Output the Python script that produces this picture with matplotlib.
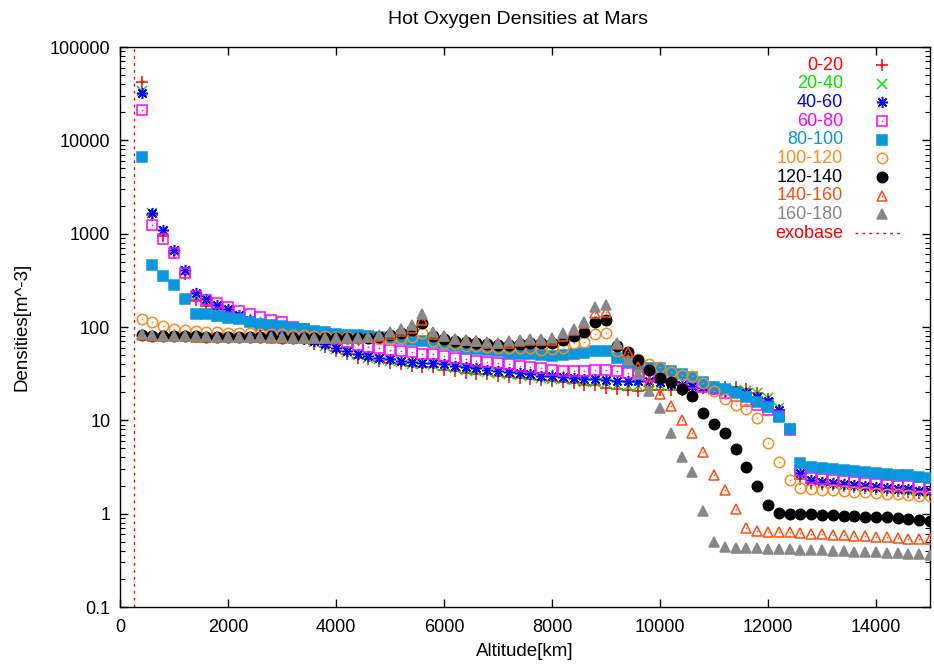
import matplotlib
matplotlib.use('Agg')
import matplotlib.pyplot as plt

plt.rcParams['font.family'] = ['Liberation Sans', 'DejaVu Sans']

# ---------------- data ----------------
altitude = list(range(400, 15001, 200))   # km

labels = ['0-20', '20-40', '40-60', '60-80', '80-100',
          '100-120', '120-140', '140-160', '160-180']

d0_20 = [42000, 1600, 940, 622, 370, 197, 167, 154, 141, 125,
         112, 100, 93, 87, 80, 74, 66, 61, 56, 51,
         47, 45, 43, 41, 40, 38, 37, 37, 35, 34,
         32, 31, 31, 30, 29, 28.5, 27.5, 27, 26.5, 26,
         25, 24, 23.7, 22.4, 21.5, 21, 20.6, 21, 21, 21,
         21, 21.5, 22, 23, 23, 22.5, 21.5, 19.5, 17, 13,
         8, 2.37, 2.15, 2.08, 2.03, 1.98, 1.93, 1.87, 1.83, 1.79,
         1.75, 1.71, 1.66, 1.61]

d20_40 = [33500, 1650, 1060, 650, 395, 215, 185, 162, 147, 130,
          115, 103, 95, 88, 82, 76, 69, 63, 58, 54,
          50, 47, 45, 43, 42, 40.5, 40, 39, 38, 36.5,
          35, 34, 33, 32, 31, 30.5, 29.5, 28.5, 28, 27.5,
          27, 26, 25.5, 25, 24, 23.5, 23.5, 24, 24, 23.5,
          23.5, 23, 22.5, 22, 21.5, 21, 20.5, 19.5, 17.5, 13.5,
          8.2, 2.6, 2.22, 2.13, 2.08, 2.03, 1.98, 1.92, 1.88, 1.84,
          1.8, 1.76, 1.71, 1.67]

d40_60 = [32300, 1670, 1090, 664, 412, 232, 200, 171, 155, 136,
          120, 106, 97, 89, 83, 78, 71, 65, 60, 56,
          52, 49, 47, 45, 43.5, 42.5, 41.5, 41, 40, 38,
          37, 36, 34.6, 34, 33, 32.5, 31.5, 30, 29.5, 29,
          28.7, 28, 27.5, 27, 26.5, 26.5, 26.5, 26.5, 26, 24.5,
          24, 23.5, 22.5, 21.5, 20.5, 20.5, 19.5, 18, 16, 13,
          8, 2.75, 2.29, 2.18, 2.15, 2.1, 2.05, 1.98, 1.94, 1.9,
          1.86, 1.82, 1.77, 1.73]

d60_80 = [20900, 1250, 885, 622, 380, 215, 195, 181, 163, 147,
          137, 129, 120, 114, 100, 95, 88, 83, 75, 69,
          64, 61, 59, 57, 55, 54, 52, 51, 49, 47,
          45, 43, 42, 41, 40, 38, 37, 36, 35, 34,
          34, 34, 34.6, 34.5, 34, 32, 31, 30, 29.5, 29,
          27.5, 25, 23, 21.5, 19.8, 18.2, 16.1, 14.5, 13, 11,
          7.9, 2.9, 2.43, 2.37, 2.29, 2.24, 2.18, 2.11, 2.07, 2.04,
          2.0, 1.96, 1.92, 1.88]

d80_100 = [6650, 463, 353, 284, 201, 137, 137, 131, 126, 121,
           114, 109, 105, 102, 98, 94.5, 90.6, 89, 85, 83,
           82, 80, 78, 77, 74, 72, 71, 69, 65, 62,
           60, 58, 57, 55, 53, 52, 51, 50, 49, 50,
           51, 53, 55, 56, 47, 42, 39, 36, 36, 34,
           31, 29, 25.5, 23, 21.5, 19.6, 17.8, 15.7, 13.8, 10.8,
           8.0, 3.46, 3.19, 3.11, 3.03, 2.94, 2.86, 2.82, 2.75, 2.68,
           2.62, 2.57, 2.49, 2.43]

d100_120 = [123, 112, 102, 96, 94, 91, 89, 88, 87, 86,
            86, 85, 85, 84, 83, 82, 81, 80, 79, 78,
            77, 76, 75, 75, 76, 79, 86, 71, 68, 65,
            63, 62, 61, 60, 59, 60, 59, 57, 58, 60,
            68, 69, 85, 86, 55, 50, 45, 40, 37, 33,
            30.5, 29.5, 25, 20.5, 16.8, 14.5, 13.3, 10.7, 5.7, 3.6,
            2.27, 1.88, 1.82, 1.80, 1.78, 1.75, 1.72, 1.69, 1.66, 1.63,
            1.61, 1.58, 1.56, 1.53]

d120_140 = [82, 81, 80, 80, 80, 80, 79, 79, 79, 78,
            78, 78, 78, 77, 77, 77, 76, 76, 76, 76,
            76, 77, 79, 83, 86, 94, 110, 80, 75, 71,
            69, 67, 65, 64, 64, 65, 67, 67, 67, 72,
            80, 88, 112, 118, 62, 54, 44, 35, 28.6, 25.5,
            21.9, 18.2, 12, 9.1, 7.3, 4.9, 3.2, 2.0, 1.25, 1.02,
            1.0, 0.99, 0.98, 0.97, 0.96, 0.95, 0.94, 0.93, 0.92, 0.91,
            0.9, 0.88, 0.86, 0.84]

d140_160 = [82, 81, 80, 80, 80, 79, 79, 79, 78, 78,
            78, 78, 77, 77, 77, 76, 76, 76, 76, 76,
            76, 78, 80, 85, 90, 98, 118, 84, 80, 74,
            72, 70, 68, 67, 68, 71, 72, 72, 73, 80,
            92, 110, 140, 145, 66, 54, 37.6, 25.7, 19, 14.2,
            10, 7.4, 4.6, 2.6, 1.78, 1.13, 0.70, 0.645, 0.64, 0.63,
            0.63, 0.62, 0.61, 0.6, 0.59, 0.59, 0.58, 0.57, 0.56, 0.56,
            0.55, 0.54, 0.54, 0.53]

d160_180 = [84, 83, 81, 81, 80, 80, 80, 79, 79, 79,
            79, 78, 78, 78, 77, 77, 77, 77, 77, 77,
            77, 78, 82, 88, 95, 104, 137, 88, 81, 75,
            73, 71, 69, 68, 70, 73, 74, 74, 76, 87,
            96, 114, 162, 170, 68, 44, 31, 20.6, 13.5, 7.4,
            4.08, 2.8, 1.08, 0.5, 0.44, 0.43, 0.43, 0.43, 0.42, 0.42,
            0.42, 0.41, 0.41, 0.41, 0.40, 0.40, 0.39, 0.39, 0.39, 0.38,
            0.38, 0.37, 0.37, 0.36]

exobase_altitude = 250

y_ticks = [0.1, 1, 10, 100, 1000, 10000, 100000]
y_tick_labels = ['0.1', '1', '10', '100', '1000', '10000', '100000']
x_ticks = [0, 2000, 4000, 6000, 8000, 10000, 12000, 14000]
x_tick_labels = ['0', '2000', '4000', '6000', '8000', '10000', '12000', '14000']

# ---------------- styles ----------------
series = [d0_20, d20_40, d40_60, d60_80, d80_100,
          d100_120, d120_140, d140_160, d160_180]
colors = ['#ff0000', '#00e600', '#0000ff', '#ff00ff', '#0a97de',
          '#ff8c1a', '#000000', '#ff4d0d', '#888888']
markers = ['+', 'x', (8, 2, 0), 's', 's', 'o', 'o', '^', '^']
filled = [True, True, True, False, True, False, True, False, True]
sizes = [8, 6.5, 8, 7, 7.5, 7.5, 7.5, 7.5, 7]
dotted = [False, False, False, True, False, True, False, True, False]

fig = plt.figure(figsize=(9.34, 6.65), dpi=100)
L, R, T, B = 120, 930, 47, 607
W, H = 934, 665
ax = fig.add_axes([L / W, 1 - B / H, (R - L) / W, (B - T) / H])

ax.axvline(exobase_altitude, color='#ff0000', lw=1.0, ls=(0, (2, 3)), zorder=1)

for d, c, m, f, s, dt in zip(series, colors, markers, filled, sizes, dotted):
    if f:
        ax.plot(altitude, d, ls='none', marker=m, color=c, ms=s, mew=1.1,
                clip_on=True, zorder=3)
    else:
        ax.plot(altitude, d, ls='none', marker=m, mfc='none', mec=c, ms=s,
                mew=1.1, clip_on=True, zorder=3)
    if dt:
        ax.plot(altitude, d, ls='none', marker='o', color=c, ms=1.2, mew=0,
                zorder=3)

ax.set_yscale('log')
ax.set_xlim(0, 15000)
ax.set_ylim(0.1, 100000)
ax.set_xticks(x_ticks)
ax.set_xticklabels(x_tick_labels)
ax.set_yticks(y_ticks)
ax.set_yticklabels(y_tick_labels)
ax.tick_params(axis='both', which='major', direction='in', length=6,
               width=1, top=True, right=True, labelsize=13, pad=7)
ax.tick_params(axis='x', which='major', pad=9)
ax.tick_params(axis='y', which='minor', direction='in', length=3.5,
               width=0.8, left=True, right=True)
ax.tick_params(axis='x', which='minor', bottom=False, top=False)
for sp in ax.spines.values():
    sp.set_linewidth(1.0)

# titles
fig.text(518 / W, 1 - 20 / H, 'Hot Oxygen Densities at Mars',
         ha='center', va='center', fontsize=14)
fig.text(525 / W, 1 - 652 / H, 'Altitude[km]', ha='center', va='center',
         fontsize=13.5)
fig.text(22 / W, 1 - 327 / H, 'Densities[m^-3]', ha='center', va='center',
         rotation=90, fontsize=13.5)

# legend (manual, gnuplot style)
row0, dy = 65, 18.67
tx = (843 - L) / (R - L)
mx = (881.7 - L) / (R - L)
for i, (lab, c, m, f, s, dt) in enumerate(zip(labels, colors, markers,
                                               filled, sizes, dotted)):
    py = row0 + i * dy
    ya = (B - py) / (B - T)
    ax.text(tx, ya, lab, color=c, ha='right', va='center', fontsize=13,
            transform=ax.transAxes)
    if f:
        ax.plot([mx], [ya], marker=m, color=c, ms=s, mew=1.1,
                transform=ax.transAxes, clip_on=False)
    else:
        ax.plot([mx], [ya], marker=m, mfc='none', mec=c, ms=s, mew=1.1,
                transform=ax.transAxes, clip_on=False)
    if dt:
        ax.plot([mx], [ya], marker='o', color=c, ms=1.2, mew=0,
                transform=ax.transAxes, clip_on=False)

py = row0 + len(labels) * dy
ya = (B - py) / (B - T)
ax.text(tx, ya, 'exobase', color='#ff0000', ha='right', va='center',
        fontsize=13, transform=ax.transAxes)
ax.plot([(855 - L) / (R - L), (903 - L) / (R - L)], [ya, ya], color='#ff0000',
        lw=1.0, ls=(0, (2, 3)), transform=ax.transAxes, clip_on=False)

fig.savefig('out.png', dpi=100)
